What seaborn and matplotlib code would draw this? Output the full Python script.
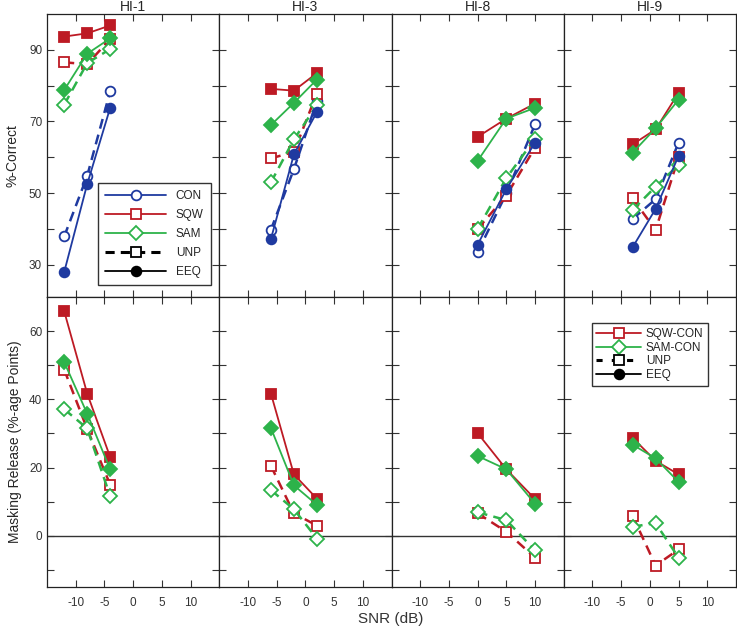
import numpy as np
import pandas as pd
import matplotlib
matplotlib.use('Agg')
import matplotlib.pyplot as plt
import seaborn as sns
from matplotlib.lines import Line2D

# ---- data ----
subjects = ['HI-1', 'HI-3', 'HI-8', 'HI-9']
snr = [[-12, -8, -4], [-6, -2, 2], [0, 5, 10], [-3, 1, 5]]

# %-correct (top row)
con_unp = [[37.9, 54.8, 78.4], [39.8, 56.7, 75.6], [33.5, 49.9, 69.2], [42.8, 48.3, 64.1]]
con_eeq = [[28.0, 52.5, 73.8], [37.2, 60.8, 72.6], [35.6, 51.1, 64.1], [34.9, 45.6, 60.4]]
sqw_unp = [[86.5, 86.0, 93.0], [59.7, 61.5, 77.8], [40.0, 49.3, 62.7], [48.5, 39.7, 60.0]]
sqw_eeq = [[93.7, 94.6, 96.8], [79.1, 78.6, 83.5], [65.7, 70.8, 75.0], [63.6, 67.8, 78.0]]
sam_unp = [[74.7, 86.3, 90.2], [53.0, 65.0, 74.5], [40.0, 54.2, 65.2], [45.3, 51.8, 57.9]]
sam_eeq = [[78.8, 88.9, 93.2], [69.0, 75.2, 81.7], [59.0, 70.8, 73.8], [61.3, 68.1, 76.1]]

# masking release (bottom row)
mr_sqw_unp = [[48.7, 31.3, 15.0], [20.5, 6.6, 3.0], [6.6, 1.2, -6.4], [5.8, -8.7, -4.0]]
mr_sqw_eeq = [[65.8, 41.7, 23.1], [41.7, 18.0, 10.9], [30.1, 19.5, 10.8], [28.7, 22.0, 18.0]]
mr_sam_unp = [[37.1, 31.5, 11.6], [13.4, 7.8, -0.8], [6.9, 4.6, -4.3], [2.7, 3.7, -6.4]]
mr_sam_eeq = [[50.9, 35.8, 19.5], [31.6, 14.8, 9.1], [23.4, 19.5, 9.4], [26.7, 22.7, 15.8]]

BLUE = '#1f3aa0'
RED = '#bd1a24'
GREEN = '#2db34a'

sns.set_style('ticks')
plt.rcParams['font.family'] = ['Liberation Sans', 'DejaVu Sans']
plt.rcParams['axes.unicode_minus'] = False
plt.rcParams['xtick.direction'] = 'in'
plt.rcParams['ytick.direction'] = 'in'


def draw(ax, x, y, color, marker, unp):
    """一条曲线: UNP=虚线+空心, EEQ=实线+实心"""
    df = pd.DataFrame({'snr': x, 'val': y})
    if unp:
        sns.lineplot(data=df, x='snr', y='val', ax=ax, color=color, marker=marker,
                     linestyle=(0, (4, 2.5)), linewidth=1.8, markersize=7,
                     mfc='white', mec=color, mew=1.3, estimator=None, sort=False)
    else:
        sns.lineplot(data=df, x='snr', y='val', ax=ax, color=color, marker=marker,
                     linestyle='-', linewidth=1.3, markersize=7,
                     mfc=color, mec=color, mew=1.3, estimator=None, sort=False)


fig, axes = plt.subplots(2, 4, figsize=(7.37, 6.32), dpi=100, sharex=True,
                         gridspec_kw={'height_ratios': [283, 290]})
fig.subplots_adjust(left=47 / 737, right=736 / 737, top=1 - 14 / 632,
                    bottom=1 - 587 / 632, wspace=0, hspace=0)

for j, name in enumerate(subjects):
    x = snr[j]
    top, bot = axes[0, j], axes[1, j]

    draw(top, x, con_unp[j], BLUE, 'o', True)
    draw(top, x, sqw_unp[j], RED, 's', True)
    draw(top, x, sam_unp[j], GREEN, 'D', True)
    draw(top, x, con_eeq[j], BLUE, 'o', False)
    draw(top, x, sqw_eeq[j], RED, 's', False)
    draw(top, x, sam_eeq[j], GREEN, 'D', False)

    bot.axhline(0, color='#333333', linewidth=1.0, zorder=0)
    draw(bot, x, mr_sqw_unp[j], RED, 's', True)
    draw(bot, x, mr_sam_unp[j], GREEN, 'D', True)
    draw(bot, x, mr_sqw_eeq[j], RED, 's', False)
    draw(bot, x, mr_sam_eeq[j], GREEN, 'D', False)

    top.set_title(name, fontsize=10, pad=1)
    top.set_ylim(21, 100)
    top.set_yticks([30, 50, 70, 90])
    top.set_yticks([40, 60, 80], minor=True)
    bot.set_ylim(-15, 70)
    bot.set_yticks([0, 20, 40, 60])
    bot.set_yticks([-10, 10, 30, 50], minor=True)

    for ax in (top, bot):
        ax.set_xlim(-15, 15)
        ax.set_xticks([-10, -5, 0, 5, 10])
        ax.set_xlabel('')
        ax.set_ylabel('')
        ax.tick_params(which='both', top=True, right=True, length=5, width=0.8,
                       labelsize=8.5, colors='#333333', labelcolor='#333333')
        ax.tick_params(axis='x', pad=7)
        for s in ax.spines.values():
            s.set_linewidth(0.9)
            s.set_color('#222222')
        if j > 0:
            ax.tick_params(which='both', labelleft=False)

axes[0, 0].set_ylabel('%-Correct', fontsize=10, labelpad=7)
axes[1, 0].set_ylabel('Masking Release (%-age Points)', fontsize=10, labelpad=5)
fig.text(0.53, 0.021, 'SNR (dB)', ha='center', va='center', fontsize=11,
         color='#333333')

# 图例
hk = dict(markersize=7, mew=1.3, linewidth=1.3)
top_handles = [
    Line2D([], [], color=BLUE, marker='o', mfc='white', **hk),
    Line2D([], [], color=RED, marker='s', mfc='white', **hk),
    Line2D([], [], color=GREEN, marker='D', mfc='white', **hk),
    Line2D([], [], color='black', marker='s', mfc='white', linestyle=(0, (3, 2)),
           markersize=7, mew=1.3, linewidth=2.2),
    Line2D([], [], color='black', marker='o', mfc='black', **hk),
]
axes[0, 0].legend(top_handles, ['CON', 'SQW', 'SAM', 'UNP', 'EEQ'],
                  loc='lower right', bbox_to_anchor=(0.985, 0.02), fontsize=8.5,
                  handlelength=5.2, fancybox=False, edgecolor='#333333',
                  framealpha=1, labelspacing=0.6, borderpad=0.6)

bot_handles = [
    Line2D([], [], color=RED, marker='s', mfc='white', **hk),
    Line2D([], [], color=GREEN, marker='D', mfc='white', **hk),
    Line2D([], [], color='black', marker='s', mfc='white', linestyle=(0, (2, 3)),
           markersize=7, mew=1.3, linewidth=2.2),
    Line2D([], [], color='black', marker='o', mfc='black', **hk),
]
axes[1, 3].legend(bot_handles, ['SQW-CON', 'SAM-CON', 'UNP', 'EEQ'],
                  loc='upper center', bbox_to_anchor=(0.5, 0.93), fontsize=8.5,
                  handlelength=3.8, fancybox=False, edgecolor='#333333',
                  framealpha=1, labelspacing=0.15, borderpad=0.4, handletextpad=0.4)

plt.savefig('out.png', dpi=100)
